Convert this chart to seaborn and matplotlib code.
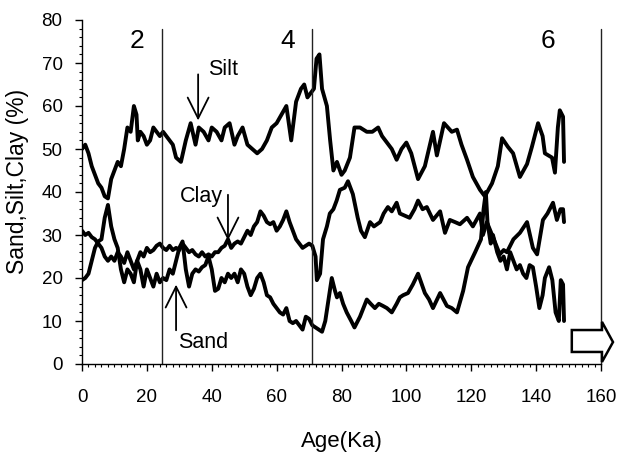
import matplotlib
matplotlib.use("Agg")
import matplotlib.pyplot as plt
import seaborn as sns
import pandas as pd
from matplotlib.patches import Polygon
from matplotlib.ticker import MultipleLocator

# ---------------- data ----------------
silt_age = [0, 1, 2, 3, 4, 5, 6, 7, 8, 9, 10, 11, 12, 13, 14, 15, 16, 16.8, 17.2, 18, 19, 20, 21, 22, 23, 24,
            25, 26, 28, 29, 30.5, 32, 33.5, 35, 36, 37.5, 39, 40, 41.5, 43, 44, 45.5, 47, 48, 49.5, 51, 52.5,
            54, 55.5, 57, 58.5, 60, 61.5, 63, 64.5, 66, 67.5, 68.5, 69.5, 70.5, 71.5, 72.3, 73.2, 74, 75.5,
            76.5, 77.5, 78.6, 80, 81, 82.6, 84, 85.7, 87.8, 89.5, 91.3, 92.5, 94, 95.5, 97, 98.5, 100, 101.5,
            103.6, 105.7, 108.2, 109.4, 111.6, 112.8, 114, 115.6, 117, 118.7, 120.5, 122.7, 124.2, 126.4,
            128.2, 129.5, 131.3, 132.9, 135, 137.2, 138.7, 140.6, 142, 142.7, 144.9, 145.8, 146.7, 147.3,
            148.3, 148.6]
silt_pct = [50, 51, 49, 46, 44, 42, 41, 39, 38.5, 43, 45, 47, 46, 50, 55, 54, 60, 58, 52, 54, 53, 51, 52, 55, 54, 53,
            54, 53, 51, 48, 47, 52, 56, 51, 55, 54, 52, 55, 54, 52, 55, 56, 51, 53, 55, 51, 50,
            49, 50, 52, 55, 56, 58, 60, 52, 61, 64, 65, 62, 63, 64, 71, 72, 64, 60,
            52, 45, 47, 44, 45, 48, 55, 55, 54, 54, 55, 53, 51.5, 50, 47.5, 50, 51.5, 49,
            43, 46, 54, 48.5, 56, 55, 54, 54.5, 51, 47.5, 43.5, 40.5, 39, 42,
            46, 52.5, 50.5, 49, 43.5, 46.5, 50.5, 56, 53, 49, 48, 44.5, 55, 59,
            57.5, 47]

clay_age = [0, 1, 2, 3, 4, 5, 6, 7, 8, 9, 10, 11, 12, 13, 14, 15, 16, 17, 18, 19, 20, 21, 22, 23, 24, 25, 26,
            27, 28, 29, 30, 31, 32, 33, 34, 35, 36, 37, 38, 39, 40, 41, 42, 43, 44, 45, 46, 47, 48, 49, 50,
            51, 52, 53, 54, 55, 56, 57, 58, 59, 60, 61, 62, 63, 64, 65, 66, 67, 68, 69, 70, 71, 72, 72.4,
            73.4, 74.3, 75.5, 76.4, 77.5, 78.5, 79.5, 81, 82, 83.5, 85, 86, 87.2, 88.8, 90, 91.9, 93, 94.3,
            95.5, 97, 98, 99.5, 101, 102.5, 103.6, 105, 106.3, 108.2, 110.4, 111.9, 113.4, 115, 116.5,
            118.7, 120.5, 122.7, 123.6, 124.8, 126.7, 128, 128.8, 130, 131, 133, 135, 137.2, 139, 140.3,
            142.1, 143.5, 145.2, 146.4, 147.5, 148.3, 148.6]
clay_pct = [31, 30, 30.5, 29.5, 29, 28, 27, 25, 24, 25, 24, 26, 25, 23.5, 26, 24, 22, 24, 26, 25, 27, 26, 26.5, 27.5, 28, 27, 26.5,
            27.5, 26.5, 27, 26.5, 28, 27, 26, 26.5, 25.5, 25, 26, 25, 25.5, 25, 26, 26, 27, 27.5, 29, 27, 28, 28.5, 28, 29.5,
            31, 30, 32, 33, 35.5, 34.5, 33, 32.5, 33, 31, 32, 33.5, 35.5, 33, 31, 29, 28, 27, 27.5, 28, 27.5, 25, 19.5,
            21, 29, 32, 35, 36, 38, 40.5, 41, 42.5, 39.5, 34, 31, 29.5, 33, 32, 33, 35, 36.5,
            35.5, 37.5, 35, 34.5, 34, 36, 38, 36, 36.5, 33.5, 35.5, 30.5, 33.5, 33, 32.5,
            34, 32, 35, 30, 33, 29.5, 27, 25.5, 26.5, 26, 29, 30.5, 33, 27, 25.5,
            33.5, 35, 37.5, 33.5, 36, 36, 33]

sand_age = [0, 1, 2, 3, 4, 5, 6, 7, 8, 9, 10, 11, 12, 13, 14, 15, 16, 17, 18, 19, 20, 21, 22, 23, 24, 25, 26,
            27, 28, 29, 30, 31, 32, 33, 34, 35, 36, 37, 38, 39, 40, 41, 42, 43, 44, 45, 46, 47, 48, 49, 50,
            51, 52, 53, 54, 55, 56, 57, 58, 59, 60, 61, 62, 63, 64, 65, 66, 67, 68, 69, 70, 71, 72, 73, 74,
            75, 75.5, 77, 78, 78.6, 79.5, 80.5, 81.6, 83, 84, 85.7, 87.8, 89, 90.3, 91.5, 92.8, 94, 95.5,
            97, 98, 99, 100.5, 102, 103.6, 105.7, 107, 108.2, 110.4, 112.5, 114, 115.6, 117.5, 119, 121.2,
            123, 123.8, 124.5, 125, 126, 126.7, 128, 129, 130, 131, 132, 133, 134, 135, 136, 137, 138, 139,
            140, 141, 142, 142.7, 144, 145, 146, 147, 147.6, 148.3, 148.6]
sand_pct = [19.5, 20, 21, 24, 27, 28.5, 29, 34, 37, 32, 29, 27, 22, 19, 22, 21, 19, 24, 22, 18, 22, 20, 18, 21, 19, 20, 19.5,
            22, 21, 24, 27, 28.5, 22, 18, 21, 22, 21.5, 22.5, 23, 25, 22, 17, 17.5, 20, 19, 21, 20, 21, 19, 22, 21,
            18, 16, 17.5, 20, 21, 19, 16, 15.5, 14, 13, 12, 11.5, 13, 10, 9.5, 10, 9, 8, 11, 10.5, 9, 8.5, 8, 7.5,
            10, 12.5, 20, 17, 15.5, 16.5, 14, 12, 10, 8.5, 11, 15, 14, 13, 14, 13.5, 13, 12,
            14, 15.5, 16, 16.5, 18.5, 21, 16.5, 15, 13, 16.5, 13.5, 13, 12, 17, 22.5, 26,
            29, 36, 40, 33, 28, 30, 26, 24, 25, 22, 26, 24, 22, 23, 21, 20, 23, 22.5,
            18, 13, 16, 20, 22.5, 19.5, 12, 10, 19.5, 18.5, 10]

stage_labels = ["2", "4", "6"]
stage_label_x = [17, 63.5, 143.5]
boundary_ages = [24.7, 71, 160]

# ---------------- figure ----------------
sns.set_style("ticks")
plt.rcParams["font.family"] = ["Liberation Sans", "DejaVu Sans"]
plt.rcParams["text.color"] = "black"
plt.rcParams["axes.labelcolor"] = "black"
plt.rcParams["xtick.color"] = "black"
plt.rcParams["ytick.color"] = "black"

W, H = 618, 458
fig = plt.figure(figsize=(W / 100, H / 100), dpi=100)
ax = fig.add_axes([82 / W, (H - 364) / H, 519 / W, 344 / H])

for age, pct in [(silt_age, silt_pct), (clay_age, clay_pct), (sand_age, sand_pct)]:
    df = pd.DataFrame({"age": age, "pct": pct})
    sns.lineplot(data=df, x="age", y="pct", sort=False, estimator=None,
                 color="black", lw=2.8, ax=ax)

for b in boundary_ages:
    ax.plot([b, b], [0, 78], color="#222222", lw=1.0, clip_on=False)

for lab, xx in zip(stage_labels, stage_label_x):
    ax.text(xx, 75, lab, fontsize=19, ha="center", va="center", color="black")

ax.set_xlim(0, 160)
ax.set_ylim(0, 80)
ax.xaxis.set_major_locator(MultipleLocator(20))
ax.xaxis.set_minor_locator(MultipleLocator(2))
ax.yaxis.set_major_locator(MultipleLocator(10))
ax.yaxis.set_minor_locator(MultipleLocator(2))
sns.despine(ax=ax, top=True, right=True)
for s in ["left", "bottom"]:
    ax.spines[s].set_color("black")
    ax.spines[s].set_linewidth(1.0)
ax.tick_params(axis="both", which="major", length=5, width=1, color="black",
               labelsize=13.5, labelcolor="black")
ax.tick_params(axis="both", which="minor", length=2.5, width=0.8, color="black")
ax.tick_params(axis="x", which="major", pad=13)
ax.tick_params(axis="y", which="major", pad=9)

ax.set_xlabel("Age(Ka)", fontsize=16, color="black")
ax.set_ylabel("Sand,Silt,Clay (%)", fontsize=16.5, color="black")
ax.xaxis.set_label_coords(0.5, -0.195)
ax.yaxis.set_label_coords(-0.102, 0.53)

arrow_kw = dict(arrowstyle="->,head_length=1.0,head_width=0.5", color="black", lw=1.3,
                mutation_scale=15)
ax.annotate("", xy=(35.8, 56), xytext=(35.8, 68), arrowprops=arrow_kw)
ax.text(43.5, 68.6, "Silt", fontsize=15.5, ha="center", va="center", color="black")
ax.annotate("", xy=(45, 28.1), xytext=(45, 40), arrowprops=arrow_kw)
ax.text(36.7, 39, "Clay", fontsize=15.5, ha="center", va="center", color="black")
ax.annotate("", xy=(29, 19.1), xytext=(29, 7.2), arrowprops=arrow_kw)
ax.text(37.3, 5.0, "Sand", fontsize=15.5, ha="center", va="center", color="black")

arrow_shape = Polygon([(151.0, 7.9), (160.3, 7.9), (160.3, 9.8), (163.7, 5.1),
                       (160.3, 0.47), (160.3, 2.8), (151.0, 2.8)],
                      closed=True, facecolor="white", edgecolor="black", lw=1.8,
                      clip_on=False, zorder=5)
ax.add_patch(arrow_shape)

fig.savefig("out.png", dpi=100)
